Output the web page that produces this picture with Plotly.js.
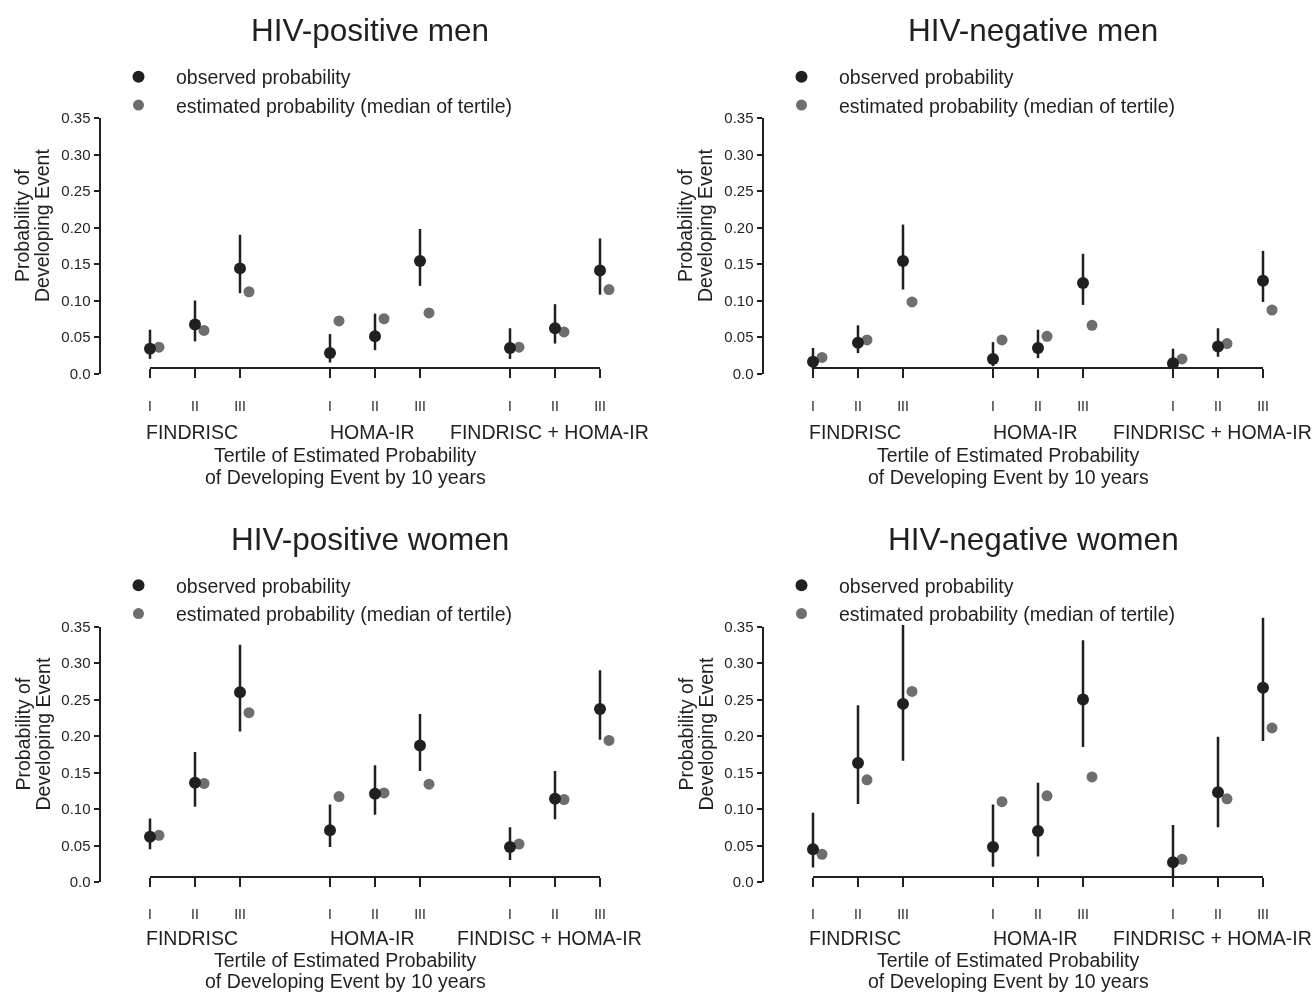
<!DOCTYPE html>
<html>
<head>
<meta charset="utf-8">
<script src="https://cdn.plot.ly/plotly-3.0.1.min.js"></script>
<style>html,body{margin:0;padding:0;background:#fff;}#chart{width:1313px;height:994px;filter:grayscale(100%);}</style>
</head>
<body>
<div id="chart"></div>
<script>
// ---------- data ----------
const panelTitles = ['HIV-positive men', 'HIV-negative men', 'HIV-positive women', 'HIV-negative women'];
const tertileLabels = ['I', 'II', 'III', 'I', 'II', 'III', 'I', 'II', 'III'];
const tertilePos = [0, 1, 2, 4, 5, 6, 8, 9, 10];
const scoreNames = ['FINDRISC', 'HOMA-IR', 'FINDRISC + HOMA-IR'];
const scoreNamesPosWomen = ['FINDRISC', 'HOMA-IR', 'FINDISC + HOMA-IR'];
const yTickVals = [0, 0.05, 0.10, 0.15, 0.20, 0.25, 0.30, 0.35];
const yTickText = ['0.0', '0.05', '0.10', '0.15', '0.20', '0.25', '0.30', '0.35'];
const xTitleLines = ['Tertile of Estimated Probability', 'of Developing Event by 10 years'];
const yTitleLines = ['Probability of', 'Developing Event'];
const legendNames = ['observed probability', 'estimated probability (median of tertile)'];

// HIV-positive men
const posMenObs  = [0.034, 0.067, 0.144, 0.028, 0.051, 0.154, 0.035, 0.062, 0.141];
const posMenLow  = [0.020, 0.044, 0.110, 0.015, 0.032, 0.120, 0.020, 0.041, 0.108];
const posMenHigh = [0.060, 0.100, 0.190, 0.054, 0.082, 0.198, 0.062, 0.095, 0.185];
const posMenEst  = [0.036, 0.059, 0.112, 0.072, 0.075, 0.083, 0.036, 0.057, 0.115];
// HIV-negative men
const negMenObs  = [0.016, 0.042, 0.154, 0.020, 0.035, 0.124, 0.014, 0.037, 0.127];
const negMenLow  = [0.006, 0.028, 0.115, 0.010, 0.021, 0.094, 0.006, 0.023, 0.098];
const negMenHigh = [0.035, 0.066, 0.204, 0.043, 0.060, 0.164, 0.034, 0.062, 0.168];
const negMenEst  = [0.022, 0.046, 0.098, 0.046, 0.051, 0.066, 0.020, 0.041, 0.087];
// HIV-positive women
const posWomenObs  = [0.062, 0.136, 0.260, 0.071, 0.121, 0.187, 0.048, 0.114, 0.237];
const posWomenLow  = [0.045, 0.103, 0.206, 0.048, 0.092, 0.152, 0.030, 0.086, 0.195];
const posWomenHigh = [0.087, 0.178, 0.325, 0.106, 0.160, 0.230, 0.075, 0.152, 0.290];
const posWomenEst  = [0.064, 0.135, 0.232, 0.117, 0.122, 0.134, 0.052, 0.113, 0.194];
// HIV-negative women
const negWomenObs  = [0.045, 0.163, 0.244, 0.048, 0.070, 0.250, 0.027, 0.123, 0.266];
const negWomenLow  = [0.020, 0.107, 0.166, 0.021, 0.035, 0.185, 0.008, 0.075, 0.193];
const negWomenHigh = [0.095, 0.242, 0.352, 0.106, 0.136, 0.331, 0.078, 0.199, 0.362];
const negWomenEst  = [0.038, 0.140, 0.261, 0.110, 0.118, 0.144, 0.031, 0.114, 0.211];

// ---------- build ----------
const panels = [
  {obs: posMenObs, low: posMenLow, high: posMenHigh, est: posMenEst, groups: scoreNames},
  {obs: negMenObs, low: negMenLow, high: negMenHigh, est: negMenEst, groups: scoreNames},
  {obs: posWomenObs, low: posWomenLow, high: posWomenHigh, est: posWomenEst, groups: scoreNamesPosWomen},
  {obs: negWomenObs, low: negWomenLow, high: negWomenHigh, est: negWomenEst, groups: scoreNames}
];

const W = 1313, H = 994;
const BLACK = '#231f20', GRAY = '#6d6e71';
const FONT = '"Liberation Sans", Arial, Helvetica, sans-serif';
const px = v => v / W;
const py = v => 1 - v / H;

// pixel geometry of one panel (top-left panel; others are offset)
const X0 = 150, X1 = 600;          // x = 0 .. 10
const Y0 = 373.5, Y35 = 118;        // y = 0 .. 0.35
const pxPerX = (X1 - X0) / 10;
const pxPerY = (Y0 - Y35) / 0.35;
const xPad = 0.6, yPadLo = 0.02, yPadHi = 0.03;
const groupShift = [-3, -3, -6];

const data = [];
const layout = {
  width: W, height: H,
  margin: {l: 0, r: 0, t: 0, b: 0},
  paper_bgcolor: '#ffffff', plot_bgcolor: 'rgba(0,0,0,0)',
  font: {family: FONT, color: BLACK},
  annotations: [],
  hovermode: false
};

panels.forEach((p, i) => {
  const s = i === 0 ? '' : String(i + 1);
  const sv = String(i + 5);
  const col = i % 2, row = Math.floor(i / 2);
  const ox = col * 663, oy = row * 508.5;
  const xa = 'x' + s, ya = 'y' + s, lg = 'legend' + s;

  // data traces (on an invisible, slightly wider subplot so nothing is clipped)
  data.push({
    type: 'scatter', mode: 'markers', name: legendNames[1],
    x: tertilePos.map(v => v + 0.2), y: p.est,
    marker: {size: 11, color: GRAY},
    xaxis: xa, yaxis: ya, legend: lg, legendrank: 2, cliponaxis: false
  });
  data.push({
    type: 'scatter', mode: 'markers', name: legendNames[0],
    x: tertilePos, y: p.obs,
    marker: {size: 12, color: BLACK},
    error_y: {
      type: 'data', symmetric: false,
      array: p.high.map((h, k) => h - p.obs[k]),
      arrayminus: p.obs.map((o, k) => o - p.low[k]),
      width: 0, thickness: 2.5, color: BLACK
    },
    xaxis: xa, yaxis: ya, legend: lg, legendrank: 1, cliponaxis: false
  });
  // empty trace that creates the visible axes subplot
  data.push({type: 'scatter', mode: 'markers', x: [], y: [], xaxis: 'x' + sv, yaxis: 'y' + sv, showlegend: false});

  layout['xaxis' + s] = {
    visible: false, range: [-xPad, 10 + xPad],
    domain: [px(X0 - xPad * pxPerX + ox), px(X1 + xPad * pxPerX + ox)],
    anchor: ya, fixedrange: true
  };
  layout['yaxis' + s] = {
    visible: false, range: [-yPadLo, 0.35 + yPadHi],
    domain: [py(Y0 + yPadLo * pxPerY + oy), py(Y35 - yPadHi * pxPerY + oy)],
    anchor: xa, fixedrange: true
  };

  layout['xaxis' + sv] = {
    domain: [px(X0 + ox), px(X1 + ox)], range: [0, 10],
    anchor: 'free', position: py(368 + oy),
    tickmode: 'array', tickvals: tertilePos, ticktext: tertileLabels,
    ticks: 'outside', ticklen: 9, tickwidth: 2, tickcolor: BLACK,
    showline: true, linewidth: 2, linecolor: BLACK,
    showgrid: false, zeroline: false, fixedrange: true,
    tickfont: {size: 14, color: BLACK}, ticklabelstandoff: 16
  };
  layout['yaxis' + sv] = {
    domain: [py(Y0 + oy), py(Y35 + oy)], range: [0, 0.35],
    anchor: 'free', position: px(99.5 + ox),
    tickmode: 'array', tickvals: yTickVals, ticktext: yTickText,
    ticks: 'outside', ticklen: 5, tickwidth: 2, tickcolor: BLACK,
    showline: true, linewidth: 2, linecolor: BLACK,
    showgrid: false, zeroline: false, fixedrange: true,
    tickfont: {size: 15, color: BLACK}
  };
  layout[lg] = {
    x: px(101 + ox), xanchor: 'left', y: py(57.5 + oy), yanchor: 'top',
    bgcolor: 'rgba(0,0,0,0)', borderwidth: 0, itemwidth: 65,
    font: {size: 19.5, color: BLACK, family: FONT}, itemclick: false, itemdoubleclick: false
  };

  // panel title
  layout.annotations.push({
    text: panelTitles[i], xref: 'paper', yref: 'paper', x: px(370 + ox), y: py(30 + oy),
    xanchor: 'center', yanchor: 'middle', showarrow: false, font: {size: 31.5, color: BLACK}
  });
  // group labels
  const groupY = row === 0 ? 432 : 429;
  p.groups.forEach((g, k) => {
    layout.annotations.push({
      text: g, xref: 'x' + sv, yref: 'paper', x: tertilePos[3 * k + 1], y: py(groupY + oy),
      xshift: groupShift[k],
      xanchor: 'center', yanchor: 'middle', showarrow: false, font: {size: 19.5, color: BLACK}
    });
  });
  // x title (bottom row nudged up a little so the last line stays inside the page)
  const titleTop = row === 0 ? 455 : 451.5;
  const titleGap = row === 0 ? 22 : 21;
  xTitleLines.forEach((t, k) => {
    layout.annotations.push({
      text: t, xref: 'paper', yref: 'paper', x: px(345 + ox), y: py(titleTop + k * titleGap + oy),
      xanchor: 'center', yanchor: 'middle', showarrow: false, font: {size: 19.5, color: BLACK}
    });
  });
  // y title
  yTitleLines.forEach((t, k) => {
    layout.annotations.push({
      text: t, xref: 'paper', yref: 'paper', x: px(22 + k * 20 + ox), y: py(226 + oy),
      xanchor: 'center', yanchor: 'middle', textangle: -90, showarrow: false,
      font: {size: 19.5, color: BLACK}
    });
  });
});

Plotly.newPlot('chart', data, layout, {displayModeBar: false, staticPlot: true});
</script>
</body>
</html>
